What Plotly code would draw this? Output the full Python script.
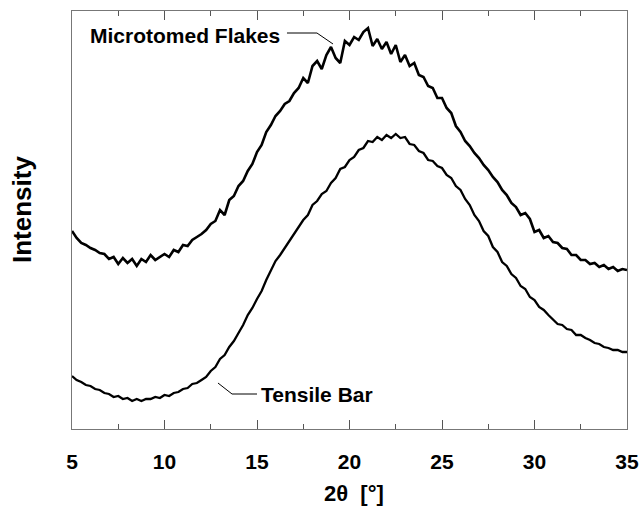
import plotly.graph_objects as go

# 2-theta grid (degrees)
two_theta = [5.00, 5.25, 5.50, 5.75, 6.00, 6.25, 6.50, 6.75, 7.00, 7.25, 7.50, 7.75,
             8.00, 8.25, 8.50, 8.75, 9.00, 9.25, 9.50, 9.75, 10.00, 10.25, 10.50, 10.75,
             11.00, 11.25, 11.50, 11.75, 12.00, 12.25, 12.50, 12.75, 13.00, 13.25, 13.50, 13.75,
             14.00, 14.25, 14.50, 14.75, 15.00, 15.25, 15.50, 15.75, 16.00, 16.25, 16.50, 16.75,
             17.00, 17.25, 17.50, 17.75, 18.00, 18.25, 18.50, 18.75, 19.00, 19.25, 19.50, 19.75,
             20.00, 20.25, 20.50, 20.75, 21.00, 21.25, 21.50, 21.75, 22.00, 22.25, 22.50, 22.75,
             23.00, 23.25, 23.50, 23.75, 24.00, 24.25, 24.50, 24.75, 25.00, 25.25, 25.50, 25.75,
             26.00, 26.25, 26.50, 26.75, 27.00, 27.25, 27.50, 27.75, 28.00, 28.25, 28.50, 28.75,
             29.00, 29.25, 29.50, 29.75, 30.00, 30.25, 30.50, 30.75, 31.00, 31.25, 31.50, 31.75,
             32.00, 32.25, 32.50, 32.75, 33.00, 33.25, 33.50, 33.75, 34.00, 34.25, 34.50, 34.75,
             35.00]

# Intensity (arbitrary units) - Microtomed Flakes
microtomed = [198, 191, 186, 184, 181, 179, 176, 175, 170, 172, 165, 171,
              166, 170, 163, 170, 167, 174, 169, 172, 175, 172, 179, 177,
              184, 183, 189, 192, 195, 199, 205, 208, 219, 214, 229, 233,
              243, 248, 258, 265, 277, 284, 297, 304, 313, 318, 325, 328,
              336, 341, 351, 346, 363, 368, 360, 374, 382, 371, 366, 388,
              384, 392, 389, 397, 401, 383, 390, 380, 387, 375, 384, 367,
              374, 363, 366, 354, 352, 343, 341, 331, 331, 321, 316, 303,
              297, 288, 283, 276, 271, 264, 259, 252, 247, 239, 234, 226,
              222, 214, 216, 210, 197, 199, 191, 193, 187, 186, 181, 180,
              174, 174, 169, 169, 165, 166, 162, 164, 160, 162, 158, 160,
              159]

# Intensity (arbitrary units) - Tensile Bar
tensile = [53, 49, 47, 44, 43, 40, 39, 36, 35, 32, 33, 30,
           31, 28, 30, 28, 30, 30, 32, 31, 34, 33, 36, 37,
           40, 41, 45, 46, 49, 52, 58, 62, 70, 74, 82, 88,
           96, 104, 114, 121, 130, 138, 149, 159, 168, 174, 181, 187,
           195, 201, 209, 214, 224, 228, 235, 238, 246, 251, 260, 262,
           269, 272, 279, 281, 288, 287, 292, 289, 294, 291, 295, 291,
           292, 285, 284, 278, 276, 269, 268, 263, 261, 254, 251, 243,
           239, 230, 224, 214, 208, 198, 193, 182, 177, 167, 163, 155,
           151, 143, 140, 132, 129, 122, 119, 114, 110, 105, 104, 100,
           99, 94, 94, 91, 89, 86, 85, 82, 81, 79, 79, 77,
           77]

x_ticks = [5, 10, 15, 20, 25, 30, 35]

FONT = "Liberation Sans, Arial, sans-serif"

fig = go.Figure()
fig.add_trace(go.Scatter(x=two_theta, y=microtomed, mode="lines",
                         line=dict(color="black", width=2.6), showlegend=False))
fig.add_trace(go.Scatter(x=two_theta, y=tensile, mode="lines",
                         line=dict(color="black", width=2.3), showlegend=False))

fig.update_layout(
    width=643, height=507,
    margin=dict(l=72, r=16, t=11, b=78),
    paper_bgcolor="white", plot_bgcolor="white",
    font=dict(family=FONT, color="black"),
)
fig.update_xaxes(
    range=[5, 35], tickmode="array", tickvals=x_ticks, automargin=False,
    ticks="inside", ticklen=9, tickwidth=1, tickcolor="#555",
    minor=dict(dtick=2.5, tick0=5, ticks="inside", ticklen=5, tickwidth=1, tickcolor="#555"),
    showline=True, linecolor="#777", linewidth=1, mirror="ticks",
    showgrid=False, zeroline=False,
    tickfont=dict(family=FONT, size=21, color="black", weight="bold"),
    ticklabelstandoff=14,
)
fig.update_yaxes(
    range=[0, 418], showticklabels=False, ticks="", automargin=False,
    showline=True, linecolor="#777", linewidth=1, mirror=True,
    showgrid=False, zeroline=False,
)

# leader lines
fig.add_shape(type="path", path="M 16.62,396 L 18.24,396 L 19.11,385",
              line=dict(color="black", width=1))
fig.add_shape(type="path", path="M 12.89,46 L 13.65,35 L 15.0,35",
              line=dict(color="black", width=1))

fig.add_annotation(x=16.35, y=394, xref="x", yref="y", text="Microtomed Flakes",
                   showarrow=False, xanchor="right", yanchor="middle",
                   font=dict(family=FONT, size=21, color="black", weight="bold"))
fig.add_annotation(x=15.11, y=35, xref="x", yref="y", text="Tensile Bar",
                   showarrow=False, xanchor="left", yanchor="middle",
                   font=dict(family=FONT, size=21, color="black", weight="bold"))

# axis titles
fig.add_annotation(x=0.508, y=-0.1555, xref="paper", yref="paper", text="2θ  [°]",
                   showarrow=False, xanchor="center", yanchor="middle",
                   font=dict(family=FONT, size=22, color="black", weight="bold"))
fig.add_annotation(x=-0.090, y=0.524, xref="paper", yref="paper", text="Intensity",
                   showarrow=False, xanchor="center", yanchor="middle", textangle=-90,
                   font=dict(family=FONT, size=26, color="black", weight="bold"))

fig.write_html("out.html")
